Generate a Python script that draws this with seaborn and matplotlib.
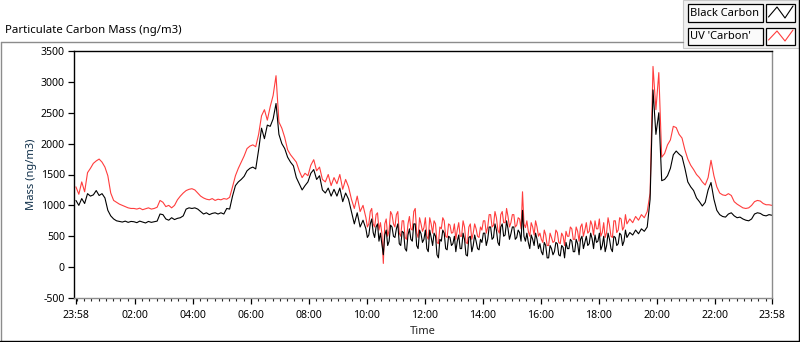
import numpy as np
import pandas as pd
import matplotlib
matplotlib.use("Agg")
import matplotlib.pyplot as plt
import seaborn as sns
from matplotlib.lines import Line2D
from matplotlib.patches import Rectangle

# ---------------- data ----------------
# 00-09 h and 19-24 h: one value every 6 minutes; 10-19 h: every 3 minutes.
black_carbon = [
    1080, 1000, 1110, 1030, 1190, 1150, 1170, 1240, 1160, 1190,   # 00
    1120, 920, 830, 780, 750, 740, 730, 745, 725, 740,            # 01
    735, 720, 745, 730, 715, 740, 725, 735, 745, 860,             # 02
    850, 780, 760, 800, 770, 790, 800, 830, 940, 960,             # 03
    950, 960, 940, 900, 860, 880, 850, 870, 880, 860,             # 04
    880, 860, 950, 940, 1150, 1320, 1380, 1420, 1470, 1560,       # 05
    1600, 1620, 1590, 1900, 2250, 2080, 2300, 2280, 2400, 2650,   # 06
    2150, 2000, 1920, 1780, 1700, 1640, 1450, 1350, 1250, 1320,   # 07
    1380, 1520, 1580, 1420, 1480, 1250, 1200, 1280, 1150, 1260,   # 08
    1150, 1280, 1060, 1200, 1100, 900, 700, 880, 650, 760,        # 09
    620, 480, 520, 700, 780, 560, 480, 650, 700, 420,             # 10
    550, 380, 200, 520, 600, 350, 420, 680, 650, 500,
    480, 620, 700, 380, 350, 580, 560, 300, 260, 520,             # 11
    620, 450, 420, 700, 700, 350, 300, 600, 540, 400,
    450, 600, 300, 250, 600, 480, 350, 550, 500, 200,             # 12
    150, 450, 420, 600, 550, 300, 280, 500, 480, 350,
    380, 500, 250, 420, 520, 300, 300, 550, 450, 200,             # 13
    180, 480, 500, 250, 350, 520, 420, 300, 280, 450,
    400, 550, 550, 350, 450, 650, 650, 450, 480, 700,             # 14
    600, 400, 350, 650, 700, 500, 520, 750, 620, 450,
    540, 650, 650, 450, 480, 600, 560, 420, 920, 500,             # 15
    420, 550, 400, 300, 520, 450, 350, 550, 450, 300,
    380, 250, 200, 400, 350, 150, 150, 350, 300, 200,             # 16
    250, 400, 380, 200, 180, 350, 320, 150, 400, 300,
    300, 450, 420, 250, 250, 450, 380, 200, 450, 500,             # 17
    300, 400, 500, 350, 380, 550, 460, 300, 520, 400,
    420, 550, 280, 350, 500, 250, 350, 550, 450, 300,             # 18
    250, 500, 480, 350, 380, 550, 520, 350, 420, 600,
    480, 560, 520, 600, 540, 620, 580, 650, 1100, 2870,           # 19
    2150, 2500, 1400, 1420, 1480, 1600, 1820, 1880, 1830, 1790,   # 20
    1600, 1380, 1300, 1240, 1120, 1060, 990, 1050, 1250, 1370,    # 21
    1100, 920, 850, 820, 810, 860, 880, 830, 800, 810,            # 22
    780, 760, 750, 780, 860, 880, 870, 840, 830, 850, 840,        # 23
]

uv_carbon = [
    1300, 1180, 1380, 1220, 1530, 1600, 1680, 1720, 1750, 1700,   # 00
    1620, 1480, 1200, 1080, 1050, 1020, 1000, 980, 960, 950,      # 01
    950, 940, 955, 930, 945, 960, 940, 950, 970, 1080,            # 02
    1050, 980, 1000, 960, 1000, 1090, 1150, 1200, 1240, 1260,     # 03
    1270, 1250, 1200, 1150, 1120, 1100, 1090, 1110, 1080, 1100,   # 04
    1090, 1110, 1100, 1130, 1300, 1480, 1600, 1700, 1800, 1920,   # 05
    1960, 1980, 1950, 2150, 2450, 2550, 2380, 2600, 2780, 3100,   # 06
    2350, 2250, 2100, 1900, 1820, 1760, 1700, 1560, 1450, 1520,   # 07
    1480, 1650, 1740, 1560, 1620, 1420, 1380, 1500, 1320, 1450,   # 08
    1350, 1500, 1260, 1420, 1300, 1100, 950, 1150, 900, 1000,     # 09
    800, 650, 700, 900, 950, 700, 650, 850, 880, 600,             # 10
    720, 550, 60, 700, 780, 500, 600, 900, 850, 700,
    650, 850, 900, 550, 500, 750, 750, 480, 450, 700,             # 11
    820, 620, 600, 900, 950, 550, 480, 800, 700, 580,
    640, 800, 500, 450, 800, 700, 550, 750, 700, 400,             # 12
    380, 650, 620, 800, 750, 500, 480, 700, 680, 550,
    560, 700, 450, 600, 720, 500, 500, 750, 650, 400,             # 13
    380, 650, 700, 450, 550, 700, 620, 500, 480, 650,
    600, 750, 750, 550, 650, 850, 850, 650, 680, 900,             # 14
    800, 600, 550, 850, 900, 720, 720, 950, 820, 650,
    720, 850, 850, 650, 680, 800, 780, 620, 1220, 700,            # 15
    640, 750, 580, 500, 720, 650, 520, 750, 650, 500,
    550, 450, 400, 600, 520, 350, 350, 550, 480, 400,             # 16
    420, 600, 560, 400, 380, 550, 500, 350, 580, 500,
    500, 650, 620, 450, 450, 650, 580, 420, 650, 700,             # 17
    500, 600, 720, 550, 580, 750, 680, 520, 750, 620,
    620, 780, 500, 560, 720, 480, 560, 800, 680, 500,             # 18
    480, 750, 750, 560, 600, 800, 780, 600, 650, 850,
    700, 780, 720, 820, 760, 850, 800, 900, 1200, 3250,           # 19
    2550, 3150, 1780, 1840, 1980, 2060, 2280, 2260, 2150, 2090,   # 20
    1900, 1750, 1650, 1580, 1500, 1450, 1380, 1330, 1450, 1730,   # 21
    1480, 1300, 1200, 1170, 1160, 1190, 1160, 1060, 1020, 990,    # 22
    960, 950, 960, 1000, 1060, 1080, 1070, 1030, 1010, 1010, 1000,  # 23
]

series_names = ["Black Carbon", "UV 'Carbon'"]
series_colors = ["#000000", "#ff3d3d"]

start_hour = -2 / 60            # 23:58 of the previous day
# (first hour of block, number of samples, sample step in hours)
sample_blocks = [(0, 100, 0.1), (10, 180, 0.05), (19, 51, 0.1)]
time_h = np.concatenate([start_hour + h0 + step * np.arange(n)
                         for h0, n, step in sample_blocks])

xtick_pos = [start_hour, 2, 4, 6, 8, 10, 12, 14, 16, 18, 20, 22, 23 + 58 / 60]
xtick_labels = ["23:58", "02:00", "04:00", "06:00", "08:00", "10:00", "12:00",
                "14:00", "16:00", "18:00", "20:00", "22:00", "23:58"]
ytick_pos = [-500, 0, 500, 1000, 1500, 2000, 2500, 3000, 3500]

# ---------------- figure ----------------
sns.set_style("white")
plt.rcParams["font.family"] = ["Noto Sans", "DejaVu Sans"]

W, H = 800, 342
fig = plt.figure(figsize=(W / 100, H / 100), dpi=100)
fig.patch.set_facecolor("white")

def fx(x):
    return x / W

def fy(y):
    return 1 - y / H

ax = fig.add_axes([fx(74), fy(298), fx(772) - fx(74), fy(51) - fy(298)])

df = pd.DataFrame({"time": np.concatenate([time_h, time_h]),
                   "mass": np.concatenate([uv_carbon, black_carbon]),
                   "series": [series_names[1]] * len(time_h) + [series_names[0]] * len(time_h)})

sns.lineplot(data=df[df.series == series_names[1]], x="time", y="mass",
             color=series_colors[1], lw=0.8, estimator=None, ax=ax, legend=False)
sns.lineplot(data=df[df.series == series_names[0]], x="time", y="mass",
             color=series_colors[0], lw=0.8, estimator=None, ax=ax, legend=False)

ax.set_xlim(-0.10, 23.97)
ax.set_ylim(-500, 3500)
ax.set_xticks(xtick_pos)
ax.set_xticklabels(xtick_labels)
ax.set_xticks(np.arange(0, 24, 0.25), minor=True)
ax.set_yticks(ytick_pos)
ax.set_yticklabels([str(v) for v in ytick_pos])

ax.tick_params(axis="both", which="major", direction="out", length=4, width=0.9,
               labelsize=7.6, pad=2.5, colors="black", bottom=True, left=True)
ax.tick_params(axis="x", which="major", pad=4.5)
ax.tick_params(axis="x", which="minor", direction="out", length=2.5, width=0.8,
               bottom=True)
ax.set_xlabel("Time", fontsize=8, labelpad=4)
ax.set_ylabel("Mass (ng/m3)", fontsize=8, labelpad=3, color="#10304a")

for s in ["left", "top"]:
    ax.spines[s].set_color("black")
    ax.spines[s].set_linewidth(1.0)
for s in ["right", "bottom"]:
    ax.spines[s].set_color("#8c8c8c")
    ax.spines[s].set_linewidth(1.0)
ax.grid(False)

# ---------------- outer frame & title ----------------
def fline(x0, y0, x1, y1, color, lw=1.0):
    fig.add_artist(Line2D([fx(x0), fx(x1)], [fy(y0), fy(y1)], color=color, lw=lw,
                          transform=fig.transFigure))

fline(0.5, 42, 683, 42, "#8c8c8c")
fline(0.5, 42, 0.5, 341, "#8c8c8c")
fline(0, 341, 799, 341, "black")
fline(799, 0, 799, 341, "black")

fig.text(fx(5), fy(31), "Particulate Carbon Mass (ng/m3)", fontsize=8.2,
         va="center", ha="left", color="black")

# ---------------- legend panel ----------------
fig.add_artist(Rectangle((fx(683), fy(48)), fx(799) - fx(683), fy(0) - fy(48),
                         transform=fig.transFigure, facecolor="#f0f0f0",
                         edgecolor="#c8c8c8", lw=0.8))
rows = [(4, 22), (28, 45)]
for (y0, y1), name, col in zip(rows, series_names, series_colors):
    fig.add_artist(Rectangle((fx(688), fy(y1)), fx(763) - fx(688), fy(y0) - fy(y1),
                             transform=fig.transFigure, facecolor="#fafafa",
                             edgecolor="black", lw=0.9))
    fig.add_artist(Rectangle((fx(766), fy(y1)), fx(795) - fx(766), fy(y0) - fy(y1),
                             transform=fig.transFigure, facecolor="white",
                             edgecolor="black", lw=0.9))
    fig.text(fx(690), fy((y0 + y1) / 2), name, fontsize=8, va="center",
             ha="left", color="black")
    zx = [768.5, 777, 785, 793]
    zy = [y1 - 5, y0 + 3, y1 - 4, y0 + 2]
    fig.add_artist(Line2D([fx(v) for v in zx], [fy(v) for v in zy], color=col,
                          lw=0.8, transform=fig.transFigure))

fig.savefig("out.png", dpi=100, facecolor="white")
